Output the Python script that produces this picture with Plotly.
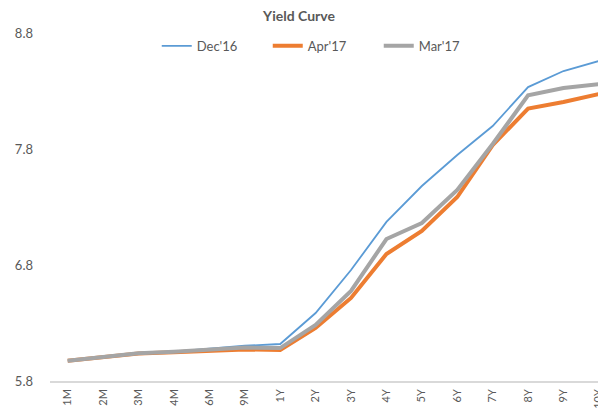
import plotly.graph_objects as go

tenors = ['1M', '2M', '3M', '4M', '6M', '9M', '1Y', '2Y', '3Y', '4Y', '5Y', '6Y', '7Y', '8Y', '9Y', '10Y']
dec16 = [5.975, 6.007, 6.039, 6.053, 6.076, 6.104, 6.119, 6.386, 6.757, 7.171, 7.481, 7.748, 7.998, 8.334, 8.472, 8.559]
apr17 = [5.975, 6.005, 6.036, 6.048, 6.059, 6.072, 6.067, 6.257, 6.516, 6.895, 7.093, 7.386, 7.834, 8.149, 8.205, 8.274]
mar17 = [5.975, 6.007, 6.039, 6.053, 6.067, 6.088, 6.084, 6.283, 6.576, 7.024, 7.162, 7.447, 7.843, 8.262, 8.326, 8.360]
y_ticks = [5.8, 6.8, 7.8, 8.8]

text_color = '#595959'
font_name = 'Lato'

# the page body keeps its default 8px margin, so the figure is 8px smaller
W, H = 598, 400

fig = go.Figure()
fig.add_trace(go.Scatter(x=tenors, y=dec16, mode='lines', name="Dec'16",
                         line=dict(color='#5B9BD5', width=1.8)))
fig.add_trace(go.Scatter(x=tenors, y=apr17, mode='lines', name="Apr'17",
                         line=dict(color='#ED7D31', width=4)))
fig.add_trace(go.Scatter(x=tenors, y=mar17, mode='lines', name="Mar'17",
                         line=dict(color='#A5A5A5', width=4)))

fig.update_layout(
    width=W, height=H,
    margin=dict(l=42, r=0, t=25, b=27),
    plot_bgcolor='white', paper_bgcolor='white',
    font=dict(family=font_name, color=text_color, size=12),
    title=dict(text='<b>Yield Curve</b>', x=291 / W, xref='container', xanchor='center',
               y=1 - 8 / H, yref='container', yanchor='middle',
               font=dict(size=14, color=text_color, family=font_name)),
    legend=dict(orientation='h', x=0.192, xanchor='left', y=0.963, yanchor='middle',
                font=dict(size=13, color=text_color), bgcolor='rgba(0,0,0,0)',
                entrywidth=66, entrywidthmode='pixels', tracegroupgap=0),
    xaxis=dict(type='category', range=[-0.5, 15.2], showgrid=False, showline=True,
               linecolor='#D9D9D9', linewidth=1.5, ticks='', tickangle=-90,
               tickfont=dict(size=11, color=text_color), automargin=False,
               ticklabelstandoff=2),
    yaxis=dict(range=[5.8, 8.8], tickvals=y_ticks, ticktext=[f'{v:.1f}' for v in y_ticks],
               showgrid=False, zeroline=False, showline=False, ticks='',
               tickfont=dict(size=13, color=text_color), automargin=False,
               ticklabelstandoff=16),
)

fig.write_html('out.html')
